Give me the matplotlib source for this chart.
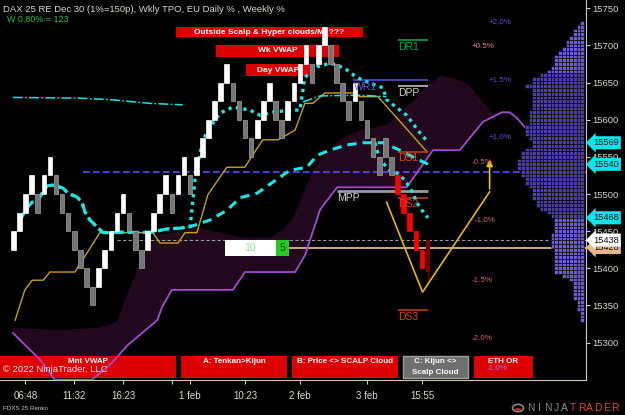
import numpy as np
import matplotlib
matplotlib.use("Agg")
import matplotlib.pyplot as plt
from matplotlib.patches import Rectangle, Circle, Wedge
from matplotlib.transforms import Affine2D, blended_transform_factory

plt.rcParams['font.family'] = ['Liberation Sans', 'DejaVu Sans']

# ---- renko bricks (25 pt) ----
BOX = 25
brick_low = [15425, 15450, 15475, 15500, 15475, 15500, 15525, 15500, 15475, 15450,
             15425, 15400, 15375, 15350, 15375, 15400, 15425, 15450, 15475, 15450,
             15425, 15400, 15425, 15450, 15475, 15500, 15475, 15500, 15525, 15500,
             15525, 15550, 15575, 15600, 15625, 15650, 15625, 15600, 15575, 15550,
             15575, 15600, 15625, 15600, 15575, 15600, 15625, 15650, 15675, 15650,
             15675, 15700, 15675, 15650, 15625, 15600, 15625, 15600, 15575, 15550,
             15525, 15550, 15525, 15500, 15475, 15450, 15425, 15400]
brick_kind = "WWWWGWWGGGGGGGWWWWWGGGWWWWGWWGWWWWWWGGGGWWWGGWWWWGWWGGGGWGGGGGGRRRRR"
live_bar = [15384, 15395, 15438]  # wick low, body low, body high

x_tick_pos = [3, 11, 19, 27, 30, 39, 48, 59, 68]
x_tick_lab = ["06:48", "11:32", "16:23", "", "1 feb", "10:23", "2 feb", "3 feb", "15:55"]
y_ticks = list(range(15300, 15751, 50))

# ---- ichimoku ----
kijun_x = [1.3, 2.9, 4.1, 5.9, 7.0, 11.1, 15.2, 23.9, 25.05, 28.0, 29.15, 31.1, 32.9,
           36.0, 38.95, 41.9, 44.4, 47.2, 48.8, 50.1, 52.1, 56.7, 57.8, 60.8, 68.8]
kijun_y = [15330, 15371, 15384, 15384, 15395, 15395, 15448, 15448, 15434, 15434, 15448,
           15448, 15499, 15536, 15536, 15573, 15573, 15586, 15622, 15622, 15636, 15636,
           15631, 15631, 15557]
spanb_x = [0.95, 2.9, 5.4, 7.8, 13.9, 16.85, 19.8, 24.6, 25.4, 27.0, 31.6, 37.0, 39.0,
           47.2, 48.85, 51.3, 54.1, 65.5, 69.8, 74.2, 78.0, 81.1, 82.4, 83.6, 88.2]
spanb_y = [15313, 15297, 15277, 15250, 15250, 15270, 15297, 15330, 15348, 15371, 15371,
           15371, 15395, 15395, 15418, 15479, 15509, 15509, 15559, 15559, 15597, 15610,
           15610, 15602, 15559]
spana_x = [0.95, 8.66, 15.2, 18.0, 19.3, 20.95, 22.6, 24.56, 31.6, 38.2, 43.1, 45.5,
           46.85, 48.5, 50.1, 52.1, 54.5, 57.8, 61.9, 63.6, 65.2, 66.85, 68.5, 70.95,
           73.1, 75.4, 77.5, 79.5, 81.6, 83.6, 88.2]
spana_y = [15320, 15317, 15320, 15328, 15357, 15391, 15418, 15445, 15454, 15442, 15441,
           15454, 15468, 15499, 15532, 15552, 15573, 15586, 15592, 15602, 15616, 15627,
           15643, 15659, 15656, 15649, 15629, 15609, 15610, 15602, 15559]

# ---- vwaps ----
wk_x = [1.93, 2.92, 4.07, 4.89, 5.7, 6.52, 7.5, 9.15, 9.97, 11.44, 12.26, 12.75, 13.57,
        14.7, 15.7, 17.3, 19.6, 21.8, 23.9, 26.2, 28.3, 30.0, 33.25, 36.03, 38.16, 40.95,
        43.57, 46.36, 49.15, 50.8, 52.9, 55.7, 58.3, 61.6, 64.4, 66.5, 69.0]
wk_y = [15461, 15478, 15489, 15488, 15501, 15511, 15512, 15508, 15501, 15496, 15489,
        15476, 15465, 15456, 15448, 15448, 15449, 15448, 15449, 15453, 15454, 15456,
        15465, 15478, 15495, 15501, 15516, 15532, 15536, 15552, 15559, 15566, 15569,
        15569, 15559, 15550, 15540]
day_x = wk_x[:22] + [30.9, 32.1, 33.25, 34.9, 37.0, 39.8, 41.45, 43.57, 46.36, 48.0, 48.8,
                     50.8, 52.9, 54.0, 55.7, 57.3, 59.5, 61.6, 62.2, 63.9, 65.5, 67.7, 69.0]
day_y = wk_y[:22] + [15528, 15573, 15590, 15609, 15617, 15613, 15606, 15610, 15613, 15613,
                     15657, 15671, 15676, 15674, 15667, 15657, 15649, 15643, 15627, 15616,
                     15606, 15582, 15570]
day3_x = [60.3, 61.1, 62.75, 63.9, 65.2, 66.4, 67.2, 68.2, 69.0]
day3_y = [15569, 15546, 15532, 15528, 15519, 15503, 15488, 15476, 15468]
mnt_x = [0.95, 11.9, 16.9, 23.4, 28.8]
mnt_y = [15630, 15629, 15627, 15622, 15620]
mnt2_x = [48.5, 51.3, 57.8, 62.2]
mnt2_y = [15624, 15632, 15633, 15631]

# projection
proj_x = [62.2, 68.1, 79.1]
proj_y = [15489, 15368, 15503]
proj_target = 15550

# pivots: name, price, start, end
pivots = [("DR1", 15707, 64.05, 69.0), ("WR1", 15653, 56.7, 69.0), ("DPP", 15645, 64.05, 69.0),
          ("DS1", 15557, 64.05, 69.0), ("MPP", 15504, 54.0, 69.0), ("DS2", 15495, 64.05, 69.0),
          ("DS3", 15344, 64.05, 69.0)]
pivot_col = {"DR1": "#00b050", "WR1": "#5d4fd0", "DPP": "#d0d0d0", "DS1": "#c8401a",
             "MPP": "#9a9a9a", "DS2": "#c8401a", "DS3": "#c8401a"}

pct_labels = ["+2,0%", "+0.5%", "+1.5%", "+1,0%", "-0.5%", "-1.0%", "-1.5%", "-2.0%"]
pct_price = [15732, 15699, 15653, 15577, 15542, 15464, 15384, 15305]
pct_x = [78.9, 76.2, 78.9, 78.9, 76.2, 76.7, 76.2, 76.2]

# TPO profile, 5 pt rows from 15730 down
prof_top = 15730
prof_counts = [1, 2, 3, 3, 4, 5, 5,
               6, 7, 8, 8, 8, 9, 10, 12, 14, 14,
               16, 14, 14, 14, 14, 14, 14, 15, 15, 15,
               15, 16, 16, 16, 15, 14, 14, 16, 17, 17,
               18, 18, 18, 17, 17, 16, 16, 15, 14, 14,
               14, 13, 13, 12, 10, 9, 8, 8, 8, 8,
               9, 9, 9, 9, 8, 8, 8, 8, 8, 8,
               8, 6, 4, 3, 3, 3, 3, 3, 2, 2,
               2, 1, 1, 1]
va_hi, va_lo = 15660, 15470

tags = [(15569, "#00e8ee"), (15540, "#00e8ee"), (15468, "#00e8ee"), (15428, "#e8b888"), (15438, "#ffffff")]

# ---------------------------------------------------------------
W, H = 625, 415
fig = plt.figure(figsize=(W / 100, H / 100), dpi=100, facecolor="black")
ax = fig.add_axes([0, 35 / H, 586 / W, 380 / H])
ax.set_facecolor("black")
ax.set_xlim(-1.18, 94.9)
ax.set_ylim(15249.7, 15761.1)
px = Affine2D().scale(1 / W, -1 / H).translate(0, 1) + fig.transFigure

axcol = "#cfc8b0"
for s in ["left", "top"]:
    ax.spines[s].set_visible(False)
for s in ["right", "bottom"]:
    ax.spines[s].set_color(axcol)
ax.yaxis.tick_right()
ax.set_yticks(y_ticks)
ax.set_yticklabels([str(v) for v in y_ticks])
ax.set_xticks(x_tick_pos)
ax.set_xticklabels(x_tick_lab)
ax.tick_params(axis="y", colors=axcol, labelcolor="#ddd6c4", labelsize=6.8, length=3, pad=1.5)
ax.tick_params(axis="x", colors=axcol, labelcolor="#ddd6c4", labelsize=7, length=3, pad=5)

# cloud
ax.fill(np.concatenate([spana_x, spanb_x[::-1]]), np.concatenate([spana_y, spanb_y[::-1]]),
        color="#22081d", lw=0, zorder=1)

# horizontal levels
ax.hlines(15530, 12.4, 95, color="#5b4cf5", lw=1.2, linestyles=(0, (4, 2)), zorder=2)
ax.hlines(15438, 18, 95, color="#9a9a9a", lw=0.8, linestyles=(0, (3, 2)), zorder=2)
ax.hlines(15428, 36, 95, color="#d8b890", lw=1.3, zorder=2)

# label boxes (top & bottom)
def box(x, y, w, h, fc="#dc0000", ec="none", z=2.5):
    ax.add_patch(Rectangle((x, y), w, h, transform=px, fc=fc, ec=ec, lw=1, clip_on=False, zorder=z))

def btxt(x, y, s, **kw):
    kw.setdefault("color", "white")
    kw.setdefault("fontsize", 5.8)
    kw.setdefault("fontweight", "bold")
    ax.text(x, y, s, transform=px, ha=kw.pop("ha", "center"), va="center", clip_on=False, zorder=7, **kw)

box(176, 27, 187, 10); btxt(269, 32.5, "Outside Scalp & Hyper clouds/MI ???", fontsize=6)
box(216, 45, 123, 12); btxt(277.5, 51, "Wk VWAP", fontsize=6)
box(246, 64, 64, 12); btxt(278, 70, "Day VWAP", fontsize=6)

box(0, 356, 176, 22); btxt(88, 361.5, "Mnt VWAP")
box(181, 356, 106, 22); btxt(234, 361.5, "A: Tenkan>Kijun")
box(292, 356, 106, 22); btxt(345, 361.5, "B: Price <> SCALP Cloud")
box(403, 356, 65, 22, fc="#6e6e6e", ec="#a0a0a0"); btxt(435.5, 361.5, "C: Kijun <>"); btxt(435.5, 372, "Scalp Cloud")
box(474, 356, 59, 22); btxt(503.5, 361.5, "ETH OR")
btxt(487, 368, "-1.0%", color="#b070ff", fontweight="normal", ha="left")
btxt(3, 369.5, "\u00a9 2022 NinjaTrader, LLC", color="#eeeeee", fontweight="normal", fontsize=6.8, ha="left")

# ichimoku lines
ax.plot(spanb_x, spanb_y, color="#a24ad0", lw=1.3, zorder=3)
ax.plot(kijun_x, kijun_y, color="#c9a010", lw=1.0, zorder=3)

# vwaps
cy = "#19e8e8"
ax.plot(mnt_x, mnt_y, color=cy, lw=1.1, ls="-.", zorder=4)
ax.plot(mnt2_x, mnt2_y, color=cy, lw=1.1, ls="-.", zorder=4)
ax.plot(wk_x, wk_y, color=cy, lw=2.2, ls=(0, (3, 2)), zorder=4)
ax.plot(day_x, day_y, color=cy, lw=2.4, ls=(0, (1, 1.3)), zorder=4)
ax.plot(day3_x, day3_y, color=cy, lw=2.4, ls=(0, (1, 1.3)), zorder=4)

# bricks
idx = np.arange(1, len(brick_low) + 1)
kind_col = {"W": "#ffffff", "G": "#757575", "R": "#ff0000"}
kind_edge = {"W": "#ffffff", "G": "#a0a0a0", "R": "#ff0000"}
ax.bar(idx, BOX, bottom=brick_low, width=0.75,
       color=[kind_col[k] for k in brick_kind], edgecolor=[kind_edge[k] for k in brick_kind],
       lw=0.5, zorder=5)
live_i = len(brick_low) + 1
ax.vlines(live_i, live_bar[0], live_bar[1], color="#7a0000", lw=1, zorder=5)
ax.bar(live_i, live_bar[2] - live_bar[1], bottom=live_bar[1], width=0.75, color="#7a0000", zorder=5)

# projection with arrow
ax.plot(proj_x, proj_y, color="#e8b800", lw=1.2, zorder=4)
ax.annotate("", xy=(proj_x[-1], proj_target), xytext=(proj_x[-1], proj_y[-1]),
            arrowprops=dict(arrowstyle="-|>", color="#f0c000", lw=1.2, mutation_scale=9), zorder=4)

# pivots
for name, p, x0, x1 in pivots:
    c = pivot_col[name]
    ax.hlines(p, x0, x1, color=c, lw=2 if name == "MPP" else 1.1, zorder=3)
    tc = {"DS1": "#e8401a", "DS2": "#e8401a", "DS3": "#e8401a", "MPP": "#d8d8d8", "WR1": "#6a5ad8"}.get(name, c)
    ax.annotate(name, (x0, p), xytext=(0.5, -1.2), textcoords="offset points", ha="left", va="top",
                color=tc, fontsize=7.5, zorder=6)

# percent labels
for lab, p, xx in zip(pct_labels, pct_price, pct_x):
    c = "#5a4ed8" if lab.startswith("+") and lab != "+0.5%" else ("#e08a8a" if lab == "+0.5%" else "#cc6677")
    ax.text(xx, p, lab, color=c, fontsize=5.8, ha="left", va="center", zorder=6)

# "10 | 5" box
box(225, 240, 51, 16, fc="white", z=6)
box(276, 240, 13, 16, fc="#22cc22", z=6)
btxt(250, 248, "10", color="#8ee08e", fontweight="normal", fontsize=7.5)
btxt(282.5, 248, "5", color="#0a3a0a", fontweight="normal", fontsize=7.5)

# TPO profile on its own overlay axes (x in cells, growing leftwards from axis)
pax = fig.add_axes(ax.get_position(), sharey=ax)
pax.set_xlim(158.4 - 0.54, -0.54)
pax.axis("off")
pax.patch.set_alpha(0)
levels = prof_top - 5 * np.arange(len(prof_counts))
for lv, n in zip(levels, prof_counts):
    col = "#4d3fa6" if va_lo <= lv <= va_hi else "#6e5ed6"
    pax.barh([lv] * n, [1] * n, left=np.arange(n), height=5, color=col, edgecolor="black", lw=0.4)

# price tags
bt = blended_transform_factory(pax.transAxes, pax.transData)
for p, c in tags:
    pax.text(1.012, p, str(p), transform=bt, ha="left", va="center", fontsize=6.7, color="#111111",
             clip_on=False, zorder=8,
             bbox=dict(boxstyle="larrow,pad=0.22", fc=c, ec="none"))

# header texts
fig.text(3 / W, 1 - 10 / H, "DAX 25 RE Dec 30 (1%=150p), Wkly TPO, EU Daily % , Weekly %",
         color="#dcd8cc", fontsize=6.8, va="center")
fig.text(7 / W, 1 - 19 / H, "W 0,80% = 123", color="#22c840", fontsize=6.4, va="center")
fig.text(3 / W, 1 - 408 / H, "FDXS 25 Renko", color="#c8c8c8", fontsize=4.5, va="center")

# NinjaTrader logo
fig.patches.append(Circle((518 / W, 1 - 408 / H), 5.5 / W, transform=fig.transFigure,
                          fc="none", ec="#888888", lw=1.2))
fig.patches.append(Wedge((518 / W, 1 - 408 / H), 4 / W, 200, 340, transform=fig.transFigure,
                         fc="#d03020", ec="none"))
for i, ch in enumerate("NINJATRADER"):
    fig.text((531 + i * 8.4) / W, 1 - 408 / H, ch, color="#8a8a8a" if i < 5 else "#e04a22",
             fontsize=7.5, va="center", ha="center")

fig.savefig("out.png", dpi=100, facecolor="black")
